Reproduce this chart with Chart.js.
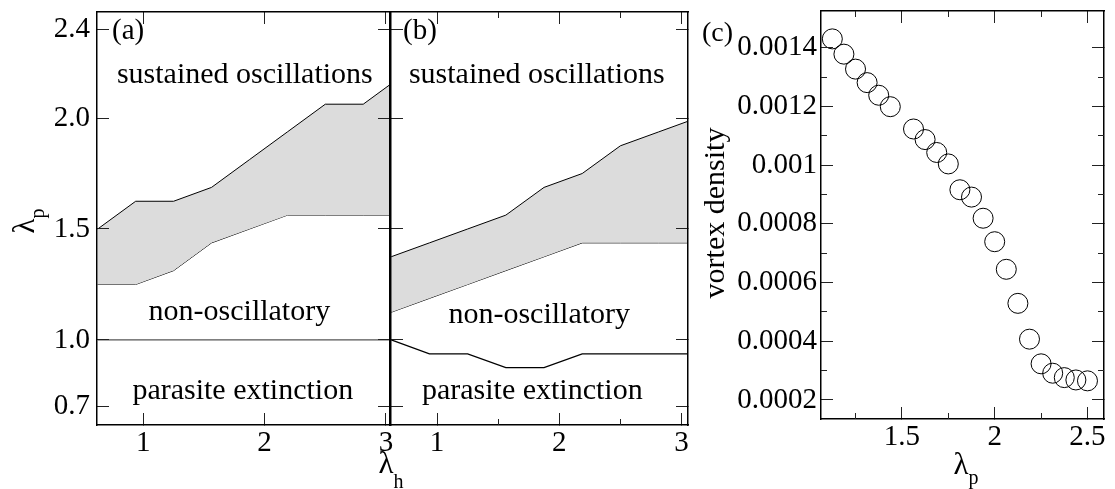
<!DOCTYPE html>
<html><head><meta charset="utf-8">
<script src="https://cdn.jsdelivr.net/npm/chart.js@4.4.0/dist/chart.umd.min.js"></script>
<style>
html,body{margin:0;padding:0;background:#fff;width:1115px;height:489px;overflow:hidden}
.layer{position:absolute;left:0;top:0;width:1115px;height:489px}
</style></head><body>
<div class="layer"><canvas id="ca" width="1115" height="489"></canvas></div>
<div class="layer"><canvas id="cb" width="1115" height="489"></canvas></div>
<div class="layer"><canvas id="cc" width="1115" height="489"></canvas></div>
<script>
// ---- data ----
const lambdaH   = [0.625, 0.9375, 1.25, 1.5625, 1.875, 2.1875, 2.5, 2.8125, 3.125];
const aUpper    = [1.5, 1.625, 1.625, 1.6875, 1.8125, 1.9375, 2.0625, 2.0625, 2.1875];
const aLower    = [1.25, 1.25, 1.3125, 1.4375, 1.5, 1.5625, 1.5625, 1.5625, 1.5625];
const aExtinct  = [1.0, 1.0, 1.0, 1.0, 1.0, 1.0, 1.0, 1.0, 1.0];
const bUpper    = [1.375, 1.4375, 1.5, 1.5625, 1.6875, 1.75, 1.875, 1.9375, 2.0];
const bLower    = [1.125, 1.1875, 1.25, 1.3125, 1.375, 1.4375, 1.4375, 1.4375, 1.4375];
const bExtinct  = [1.0, 0.9375, 0.9375, 0.875, 0.875, 0.9375, 0.9375, 0.9375, 0.9375];
const lambdaP   = [1.125, 1.1875, 1.25, 1.3125, 1.375, 1.4375, 1.5625, 1.625, 1.6875, 1.75, 1.8125,
                   1.875, 1.9375, 2.0, 2.0625, 2.125, 2.1875, 2.25, 2.3125, 2.375, 2.4375, 2.5];
const vortexDensity = [0.00143, 0.001378, 0.001327, 0.001281, 0.001238, 0.001199, 0.001123, 0.001087,
                   0.001043, 0.001004, 0.000916, 0.000891, 0.000819, 0.000739, 0.000645, 0.000529,
                   0.000407, 0.000323, 0.000291, 0.000276, 0.000268, 0.000265];
const phaseXTicks = [1, 2, 3];
const phaseXMinor = [1.5, 2.5];
const phaseYTicks = [0.7, 1.0, 1.5, 2.0, 2.4];
const vortexXTicks = [1.5, 2, 2.5];
const vortexXMinor = [1.25, 1.75, 2.25];
const vortexYTicks = [0.0002, 0.0004, 0.0006, 0.0008, 0.001, 0.0012, 0.0014];
const vortexYMinor = [0.0003, 0.0005, 0.0007, 0.0009, 0.0011, 0.0013];
const regionLabels = ['sustained oscillations', 'non-oscillatory', 'parasite extinction'];

// ---- styling / helpers ----
const FAM = 'Liberation Serif';
const TICK_FONT = {family: FAM, size: 29};
const FILL = '#dcdcdc';

function axisCfg(p) {
  const vertical = p.pos === 'left' || p.pos === 'right';
  return {
    type: 'linear', position: p.pos, min: p.min, max: p.max, bounds: 'data',
    weight: p.size ? 1 : 0,
    afterBuildTicks: s => { s.ticks = p.values.filter(v => v >= p.min && v <= p.max).map(v => ({value: v})); },
    afterFit: s => {
      if (vertical) s.width = p.size || 0; else s.height = p.size || 0;
      s.paddingTop = 0; s.paddingBottom = 0; s.paddingLeft = 0; s.paddingRight = 0;
    },
    grid: {display: true, drawOnChartArea: false, drawTicks: true, tickLength: -p.len, color: '#222', lineWidth: 1, z: 1},
    border: {display: !!p.border, color: '#000', width: 1.5, z: 1},
    ticks: {display: !!p.fmt, callback: p.fmt || (() => ''), padding: (p.pad || 0) + p.len, z: 1,
            color: '#000', font: TICK_FONT, autoSkip: false, maxRotation: 0, minRotation: 0}
  };
}

function drawLabel(ctx, main, sub, x, y, rot, mainSize, subSize, subShift) {
  ctx.save();
  ctx.translate(x, y);
  if (rot) ctx.rotate(rot);
  ctx.fillStyle = '#000';
  ctx.textBaseline = 'alphabetic';
  ctx.textAlign = 'left';
  ctx.font = mainSize + 'px "' + FAM + '"';
  const w1 = ctx.measureText(main).width;
  let w2 = 0;
  if (sub) { ctx.font = subSize + 'px "' + FAM + '"'; w2 = ctx.measureText(sub).width; }
  const start = -(w1 + w2) / 2;
  ctx.font = mainSize + 'px "' + FAM + '"';
  ctx.fillText(main, start, 0);
  if (sub) { ctx.font = subSize + 'px "' + FAM + '"'; ctx.fillText(sub, start + w1, subShift); }
  ctx.restore();
}

const textPlugin = {
  id: 'texts',
  afterDraw(chart, args, opts) {
    const ctx = chart.ctx;
    for (const t of (opts.items || [])) {
      let x = t.px, y = t.py;
      if (t.dx !== undefined) { x = chart.scales.x.getPixelForValue(t.dx); y = chart.scales.y.getPixelForValue(t.dy); }
      if (t.left) {
        ctx.save(); ctx.fillStyle = '#000'; ctx.font = t.size + 'px "' + FAM + '"';
        ctx.textAlign = 'left'; ctx.textBaseline = 'alphabetic'; ctx.fillText(t.text, x, y); ctx.restore();
      } else {
        drawLabel(ctx, t.text, t.sub, x, y, t.rot || 0, t.size, t.subSize || 20, t.subShift || 0);
      }
    }
  }
};

function pts(xs, ys) { return xs.map((x, i) => ({x, y: ys[i]})); }

function phaseChart(id, pad, leftSize, xmin, xmax, upper, lower, extinct, minor, extColor, items) {
  const ymin = 0.6166, ymax = 2.478;
  const scales = {
    x: axisCfg({pos: 'bottom', min: xmin, max: xmax, values: phaseXTicks, len: 12, pad: 1, border: true, size: 64, fmt: v => String(v)}),
    xTop: axisCfg({pos: 'top', min: xmin, max: xmax, values: phaseXTicks, len: 12, border: true}),
    y: axisCfg({pos: 'left', min: ymin, max: ymax, values: phaseYTicks, len: 12, pad: 7, border: true, size: leftSize, fmt: leftSize ? (v => v.toFixed(1)) : null}),
    yRight: axisCfg({pos: 'right', min: ymin, max: ymax, values: phaseYTicks, len: 12, border: true})
  };
  if (minor) {
    scales.xMinB = axisCfg({pos: 'bottom', min: xmin, max: xmax, values: phaseXMinor, len: 6});
    scales.xMinT = axisCfg({pos: 'top', min: xmin, max: xmax, values: phaseXMinor, len: 6});
  }
  return new Chart(document.getElementById(id), {
    type: 'line',
    data: {datasets: [
      {data: pts(lambdaH, upper), borderColor: '#000', borderWidth: 1, backgroundColor: FILL, fill: '+1', pointRadius: 0, tension: 0},
      {data: pts(lambdaH, lower), borderColor: '#000', borderWidth: 1, fill: false, pointRadius: 0, tension: 0},
      {data: pts(lambdaH, extinct), borderColor: extColor, borderWidth: 1.3, fill: false, pointRadius: 0, tension: 0}
    ]},
    options: {
      responsive: false, animation: false, devicePixelRatio: 1,
      layout: {padding: pad},
      scales,
      plugins: {legend: {display: false}, tooltip: {enabled: false}, texts: {items}}
    },
    plugins: [textPlugin]
  });
}

phaseChart('ca', {left: 0, top: 12, right: 725, bottom: 0}, 97, 0.619, 3.033, aUpper, aLower, aExtinct, false, '#555', [
  {text: '(a)', px: 112, py: 39, size: 29, left: true},
  {text: regionLabels[0], dx: 1.837, dy: 2.158, size: 30},
  {text: regionLabels[1], dx: 1.792, dy: 1.09, size: 30},
  {text: regionLabels[2], dx: 1.82, dy: 0.735, size: 30},
  {text: '\u03bb', sub: 'p', px: 34, py: 221, rot: -Math.PI / 2, size: 31, subSize: 20, subShift: 10},
  {text: '\u03bb', sub: 'h', px: 391, py: 473, size: 31, subSize: 20, subShift: 15}
]);

phaseChart('cb', {left: 391, top: 12, right: 427, bottom: 0}, 0, 0.623, 3.053, bUpper, bLower, bExtinct, true, '#000', [
  {text: '(b)', px: 403, py: 39, size: 29, left: true},
  {text: regionLabels[0], dx: 1.816, dy: 2.158, size: 30},
  {text: regionLabels[1], dx: 1.836, dy: 1.077, size: 30},
  {text: regionLabels[2], dx: 1.779, dy: 0.735, size: 30}
]);

(function () {
  const xmin = 1.064, xmax = 2.589, ymin = 0.000135, ymax = 0.001525;
  new Chart(document.getElementById('cc'), {
    type: 'scatter',
    data: {datasets: [{
      data: pts(lambdaP, vortexDensity), pointRadius: 10, pointStyle: 'circle',
      pointBackgroundColor: 'rgba(0,0,0,0)', pointBorderColor: '#000', pointBorderWidth: 1, showLine: false
    }]},
    options: {
      responsive: false, animation: false, devicePixelRatio: 1,
      layout: {padding: {left: 0, top: 10, right: 3, bottom: 0}},
      scales: {
        x: axisCfg({pos: 'bottom', min: xmin, max: xmax, values: vortexXTicks, len: 12, pad: 1, border: true, size: 70, fmt: v => String(v)}),
        xTop: axisCfg({pos: 'top', min: xmin, max: xmax, values: vortexXTicks, len: 12, border: true}),
        xMinB: axisCfg({pos: 'bottom', min: xmin, max: xmax, values: vortexXMinor, len: 6}),
        xMinT: axisCfg({pos: 'top', min: xmin, max: xmax, values: vortexXMinor, len: 6}),
        y: axisCfg({pos: 'left', min: ymin, max: ymax, values: vortexYTicks, len: 12, pad: 4, border: true, size: 821, fmt: v => String(+v.toFixed(4))}),
        yRight: axisCfg({pos: 'right', min: ymin, max: ymax, values: vortexYTicks, len: 12, border: true}),
        yMinL: axisCfg({pos: 'left', min: ymin, max: ymax, values: vortexYMinor, len: 6}),
        yMinR: axisCfg({pos: 'right', min: ymin, max: ymax, values: vortexYMinor, len: 6})
      },
      plugins: {legend: {display: false}, tooltip: {enabled: false}, texts: {items: [
        {text: '(c)', px: 702, py: 41, size: 28, left: true},
        {text: 'vortex density', px: 724, py: 213, rot: -Math.PI / 2, size: 30},
        {text: '\u03bb', sub: 'p', px: 966, py: 474, size: 31, subSize: 20, subShift: 10}
      ]}}
    },
    plugins: [textPlugin]
  });
})();
</script>
</body></html>
